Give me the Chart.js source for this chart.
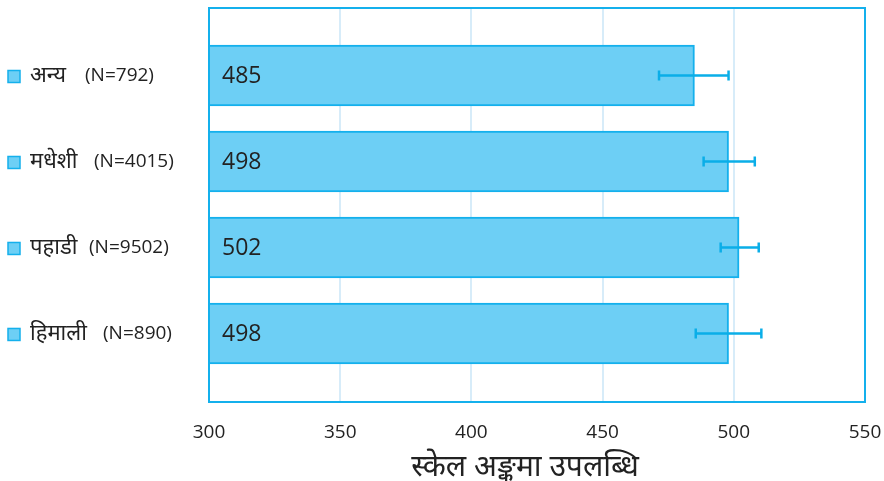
<!DOCTYPE html>
<html>
<head>
<meta charset="utf-8">
<script src="https://cdn.jsdelivr.net/npm/chart.js@4"></script>
<style>
  html, body { margin: 0; padding: 0; background: #fff; }
  #wrap { width: 884px; height: 481px; }
</style>
</head>
<body>
<div id="wrap"><canvas id="chart" width="884" height="481"></canvas></div>
<script>
// categories top to bottom
const groups = ["अन्य", "मधेशी", "पहाडी", "हिमाली"];
const groupN = ["(N=792)", "(N=4015)", "(N=9502)", "(N=890)"];
const scores = [485, 498, 502, 498];
const errLow = [471.5, 488.5, 495, 485.5];
const errHigh = [498, 508, 509.5, 510.5];
const xTicks = [300, 350, 400, 450, 500, 550];
const axisTitle = "स्केल अङ्कमा उपलब्धि";

const FILL = "#6dcff5";
const LINE = "#14b0ec";
const FONT = "'Open Sans', 'Noto Sans', sans-serif";

// value labels, error bars, frame, category labels
const extras = {
  id: "extras",
  afterDatasetsDraw(chart) {
    const ctx = chart.ctx;
    const xs = chart.scales.x;
    const ys = chart.scales.y;
    const a = chart.chartArea;
    ctx.save();

    ctx.fillStyle = "#222";
    ctx.font = "23px " + FONT;
    ctx.textBaseline = "middle";
    ctx.textAlign = "left";
    scores.forEach((v, i) => {
      ctx.fillText(String(v), xs.getPixelForValue(300) + 13, ys.getPixelForValue(i) + 1);
    });

    ctx.strokeStyle = "#0aaee8";
    ctx.lineWidth = 2.5;
    scores.forEach((v, i) => {
      const y = ys.getPixelForValue(i);
      const x1 = xs.getPixelForValue(errLow[i]);
      const x2 = xs.getPixelForValue(errHigh[i]);
      ctx.beginPath();
      ctx.moveTo(x1, y); ctx.lineTo(x2, y);
      ctx.moveTo(x1, y - 5); ctx.lineTo(x1, y + 5);
      ctx.moveTo(x2, y - 5); ctx.lineTo(x2, y + 5);
      ctx.stroke();
    });

    ctx.strokeStyle = LINE;
    ctx.lineWidth = 2;
    ctx.strokeRect(a.left, a.top, a.right - a.left, a.bottom - a.top);

    const nX = [85, 94, 89, 103];
    groups.forEach((g, i) => {
      const y = ys.getPixelForValue(i);
      ctx.fillStyle = FILL;
      ctx.fillRect(8, y - 5, 12, 12);
      ctx.strokeStyle = LINE;
      ctx.lineWidth = 1.5;
      ctx.strokeRect(8, y - 5, 12, 12);
      ctx.fillStyle = "#222";
      ctx.font = "22px " + FONT;
      ctx.fillText(g, 30, y);
      ctx.font = "19px " + FONT;
      ctx.fillText(groupN[i], nX[i], y);
    });

    // axis title, slightly left of plot centre as in the original
    ctx.font = "30px " + FONT;
    ctx.textAlign = "center";
    ctx.fillText(axisTitle, (a.left + a.right) / 2 - 12, a.bottom + 65);
    ctx.restore();
  }
};

new Chart(document.getElementById("chart"), {
  type: "bar",
  data: {
    datasets: [{
      data: scores.map((v, i) => ({ x: v, y: i })),
      backgroundColor: FILL,
      borderColor: LINE,
      borderWidth: 2,
      borderSkipped: false,
      barThickness: 61,
    }],
  },
  options: {
    responsive: false,
    animation: false,
    indexAxis: "y",
    layout: { padding: { left: 209, right: 19, top: 8, bottom: 0 } },
    plugins: { legend: { display: false }, tooltip: { enabled: false } },
    scales: {
      x: {
        type: "linear",
        min: 300,
        max: 550,
        afterBuildTicks: (s) => { s.ticks = xTicks.map((v) => ({ value: v })); },
        afterFit: (s) => { s.height = 79; s.paddingLeft = 0; s.paddingRight = 0; },
        grid: { color: "#d7ecf9", lineWidth: 2, drawTicks: false },
        border: { display: false },
        ticks: { color: "#222", font: { size: 19, family: FONT }, padding: 19 },
      },
      y: {
        type: "linear",
        reverse: true,
        offset: false,
        min: -0.785,
        max: 3.797,
        display: false,
      },
    },
  },
  plugins: [extras],
});
</script>
</body>
</html>
